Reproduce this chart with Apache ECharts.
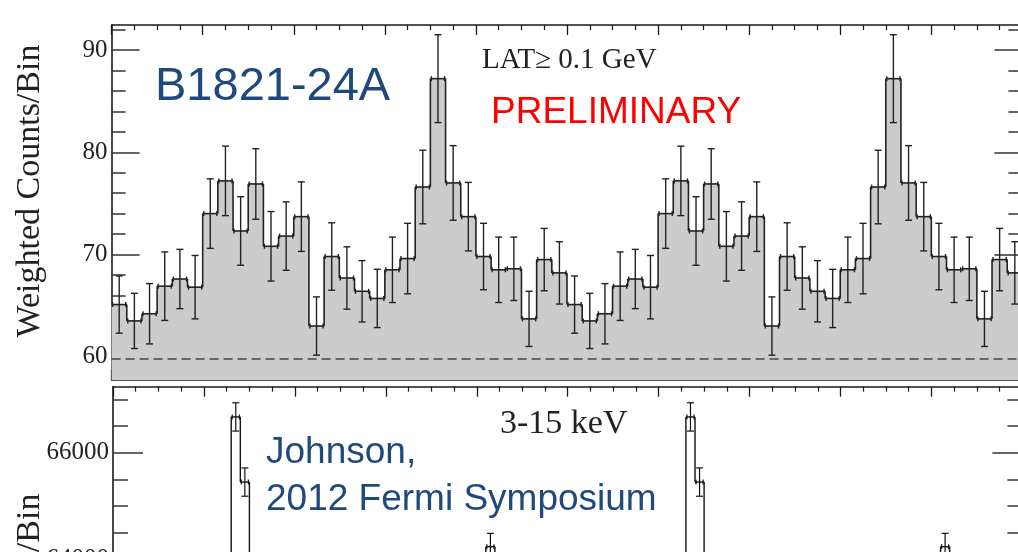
<!DOCTYPE html>
<html>
<head>
<meta charset="utf-8">
<script src="https://cdn.jsdelivr.net/npm/echarts@6/dist/echarts.min.js"></script>
<style>
  html, body { margin: 0; padding: 0; background: #ffffff; }
  #chart { width: 1018px; height: 552px; }
</style>
</head>
<body>
<div id="chart"></div>
<script>
// ---- Fermi-LAT (>= 0.1 GeV) pulse profile of B1821-24A, 30 bins per rotation ----
const LAT_COUNTS = [65.1, 63.5, 64.2, 66.9, 67.6, 66.8, 74.0, 77.2, 72.3, 76.9,
                    70.8, 71.8, 73.7, 63.0, 69.8, 67.7, 66.4, 65.7, 68.5, 69.6,
                    76.6, 87.2, 77.0, 73.7, 69.8, 68.5, 68.6, 63.7, 69.5, 68.2];
const LAT_ERRORS = [2.8, 2.7, 2.95, 3.35, 2.9, 3.1, 3.4, 3.4, 3.35, 3.45,
                    3.4, 3.35, 3.4, 2.85, 3.3, 3.05, 3.0, 2.85, 3.2, 3.45,
                    3.6, 4.3, 3.65, 3.35, 3.25, 3.2, 3.1, 2.7, 3.05, 3.05];
const LAT_BACKGROUND = 59.75;
const LAT_MAJOR_TICKS = [60, 70, 80, 90];
const LAT_MINOR_TICKS = [58, 62, 64, 66, 68, 72, 74, 76, 78, 82, 84, 86, 88, 92];

// ---- X-ray (3-15 keV) pulse profile, 50 bins per rotation ----
const XRAY_COUNTS = [61900, 61850, 61950, 62000, 61900, 62050, 61980, 62100, 62150, 62200,
                     62350, 62500, 62900, 66670, 65450, 63100, 62600, 62400, 62300, 62200,
                     62100, 62050, 61950, 62000, 61900, 61950, 62000, 61900, 62050, 62000,
                     61950, 62100, 62050, 62150, 62200, 62250, 62300, 62400, 62500, 62700,
                     63000, 64240, 63200, 62700, 62400, 62200, 62100, 62000, 61950, 61900];
const XRAY_ERRORS = [245, 245, 245, 245, 245, 245, 245, 245, 245, 245,
                     245, 245, 248, 265, 265, 250, 248, 248, 248, 245,
                     245, 245, 245, 245, 245, 245, 245, 245, 245, 245,
                     245, 245, 245, 245, 245, 245, 245, 245, 248, 248,
                     250, 250, 250, 248, 248, 245, 245, 245, 245, 245];
const XRAY_MAJOR_TICKS = [60000, 62000, 64000, 66000];
const XRAY_MINOR_TICKS = [60500, 61000, 61500, 62500, 63000, 63500, 64500, 65000, 65500, 66500, 67000];

const ROTATIONS = 2;
const LAT_MIN = 57.72, LAT_MAX = 92.45;
const XRAY_MIN = 60000, XRAY_MAX = 67236;

const SERIF = "'Liberation Serif', 'DejaVu Serif', serif";
const SANS = "'Liberation Sans', Arial, sans-serif";
const INK = '#1a1a1a';

// Rows [left phase, right phase, value, error, next bin value] repeated over the rotations
function buildBins(values, errors) {
  const n = values.length, w = 1 / n, rows = [];
  const total = n * ROTATIONS;
  for (let k = 0; k < total; k++) {
    const v = values[k % n];
    const next = k + 1 < total ? values[(k + 1) % n] : v;
    rows.push([k * w, (k + 1) * w, v, errors[k % n], next]);
  }
  return rows;
}
const latBins = buildBins(LAT_COUNTS, LAT_ERRORS);
const xrayBins = buildBins(XRAY_COUNTS, XRAY_ERRORS);

// Step-shaped area under the LAT histogram
const latArea = latBins.map(r => [r[0], r[2]]);
latArea.push([ROTATIONS, LAT_COUNTS[LAT_COUNTS.length - 1]]);

function histOutline(color, stepWidth, errWidth) {
  return function (params, api) {
    const x0 = api.value(0), x1 = api.value(1), v = api.value(2), e = api.value(3), nv = api.value(4);
    const pL = api.coord([x0, v]), pR = api.coord([x1, v]);
    const xc = (pL[0] + pR[0]) / 2;
    const yHi = api.coord([x0, v + e])[1], yLo = api.coord([x0, v - e])[1];
    const step = { stroke: color, lineWidth: stepWidth, fill: null };
    const err = { stroke: color, lineWidth: errWidth, fill: null };
    const cap = 3.5;
    const children = [
      { type: 'line', shape: { x1: pL[0], y1: pL[1], x2: pR[0], y2: pR[1] }, style: step },
      { type: 'line', shape: { x1: xc, y1: yHi, x2: xc, y2: yLo }, style: err },
      { type: 'line', shape: { x1: xc - cap, y1: yHi, x2: xc + cap, y2: yHi }, style: err },
      { type: 'line', shape: { x1: xc - cap, y1: yLo, x2: xc + cap, y2: yLo }, style: err },
      { type: 'line', shape: { x1: pL[0] + 1, y1: pL[1] - 2.5, x2: pL[0] + 1, y2: pL[1] + 2.5 }, style: err },
      { type: 'line', shape: { x1: pR[0] - 1, y1: pR[1] - 2.5, x2: pR[0] - 1, y2: pR[1] + 2.5 }, style: err }
    ];
    if (nv !== v) {
      const pN = api.coord([x1, nv]);
      children.push({ type: 'line', shape: { x1: pR[0], y1: pR[1], x2: pN[0], y2: pN[1] }, style: step });
    }
    return { type: 'group', children: children };
  };
}

function phaseAxis(gridIndex, position) {
  return {
    type: 'value', gridIndex: gridIndex, position: position,
    min: 0, max: ROTATIONS, interval: 0.2,
    axisLine: { show: true, onZero: false, lineStyle: { color: INK, width: 1.6 } },
    axisTick: { show: true, inside: true, length: 10, lineStyle: { color: INK, width: 1.3 } },
    minorTick: { show: true, splitNumber: 4, length: 5, lineStyle: { color: INK, width: 1.2 } },
    axisLabel: { show: false },
    splitLine: { show: false }, minorSplitLine: { show: false }
  };
}

function countAxis(gridIndex, position, min, max, ticks, len, withLabels, withLine) {
  return {
    type: 'value', gridIndex: gridIndex, position: position, min: min, max: max,
    axisLine: { show: withLine, onZero: false, lineStyle: { color: INK, width: 1.6 } },
    axisTick: { show: true, inside: true, length: len, customValues: ticks,
                lineStyle: { color: '#333', width: 1.5 } },
    axisLabel: withLabels
      ? { show: true, customValues: ticks, margin: 4, fontFamily: SERIF, fontSize: 25, color: '#222',
          formatter: function (v) { return String(v); } }
      : { show: false },
    splitLine: { show: false }
  };
}

const chart = echarts.init(document.getElementById('chart'), null, { renderer: 'canvas' });

chart.setOption({
  animation: false,
  backgroundColor: '#ffffff',
  grid: [
    { left: 111.6, top: 25, width: 910.8, height: 355, containLabel: false, outerBoundsMode: 'none' },
    { left: 113, top: 386.7, width: 909.4, height: 386.4, containLabel: false, outerBoundsMode: 'none' }
  ],
  xAxis: [
    phaseAxis(0, 'bottom'),
    phaseAxis(0, 'top'),
    phaseAxis(1, 'top')
  ],
  yAxis: [
    countAxis(0, 'left', LAT_MIN, LAT_MAX, LAT_MAJOR_TICKS, 28, true, true),
    countAxis(0, 'left', LAT_MIN, LAT_MAX, LAT_MINOR_TICKS, 14, false, false),
    countAxis(0, 'right', LAT_MIN, LAT_MAX, LAT_MAJOR_TICKS, 28, false, true),
    countAxis(0, 'right', LAT_MIN, LAT_MAX, LAT_MINOR_TICKS, 14, false, false),
    countAxis(1, 'left', XRAY_MIN, XRAY_MAX, XRAY_MAJOR_TICKS, 30, true, true),
    countAxis(1, 'left', XRAY_MIN, XRAY_MAX, XRAY_MINOR_TICKS, 15, false, false),
    countAxis(1, 'right', XRAY_MIN, XRAY_MAX, XRAY_MAJOR_TICKS, 30, false, true),
    countAxis(1, 'right', XRAY_MIN, XRAY_MAX, XRAY_MINOR_TICKS, 15, false, false)
  ],
  series: [
    {
      type: 'line', xAxisIndex: 0, yAxisIndex: 0, data: latArea, step: 'end',
      symbol: 'none', lineStyle: { width: 0 },
      areaStyle: { color: '#cccccc', opacity: 1, origin: 'start' },
      z: 1, silent: true,
      markLine: {
        silent: true, symbol: ['none', 'none'], label: { show: false },
        lineStyle: { type: [9, 5], color: '#444444', width: 1.5 },
        data: [{ yAxis: LAT_BACKGROUND }]
      }
    },
    {
      type: 'custom', xAxisIndex: 0, yAxisIndex: 0, data: latBins,
      encode: { x: [0, 1], y: [2] },
      renderItem: histOutline('#222222', 1.6, 1.4), z: 3, silent: true
    },
    {
      type: 'custom', xAxisIndex: 2, yAxisIndex: 4, data: xrayBins,
      encode: { x: [0, 1], y: [2] },
      renderItem: histOutline('#111111', 1.4, 1.2), z: 3, silent: true
    }
  ],
  graphic: [
    { type: 'text', x: 30, y: 191, rotation: Math.PI / 2,
      style: { text: 'Weighted Counts/Bin', font: '34px ' + SERIF, fill: '#222', align: 'center', verticalAlign: 'middle' } },
    { type: 'text', x: 30, y: 640, rotation: Math.PI / 2,
      style: { text: 'Weighted Counts/Bin', font: '34px ' + SERIF, fill: '#222', align: 'center', verticalAlign: 'middle' } },
    { type: 'text', x: 155, y: 87,
      style: { text: 'B1821-24A', font: '47px ' + SANS, fill: '#1F497D', align: 'left', verticalAlign: 'middle' } },
    { type: 'text', x: 482, y: 60,
      style: { text: 'LAT\u2265 0.1 GeV', font: '29px ' + SERIF, fill: '#222', align: 'left', verticalAlign: 'middle' } },
    { type: 'text', x: 491, y: 113,
      style: { text: 'PRELIMINARY', font: '37px ' + SANS, fill: '#ff0000', align: 'left', verticalAlign: 'middle' } },
    { type: 'text', x: 500, y: 424,
      style: { text: '3-15 keV', font: '34px ' + SERIF, fill: '#222', align: 'left', verticalAlign: 'middle' } },
    { type: 'text', x: 266, y: 453,
      style: { text: 'Johnson,', font: '37px ' + SANS, fill: '#1F497D', align: 'left', verticalAlign: 'middle' } },
    { type: 'text', x: 266, y: 500,
      style: { text: '2012 Fermi Symposium', font: '37px ' + SANS, fill: '#1F497D', align: 'left', verticalAlign: 'middle' } }
  ]
});
</script>
</body>
</html>
